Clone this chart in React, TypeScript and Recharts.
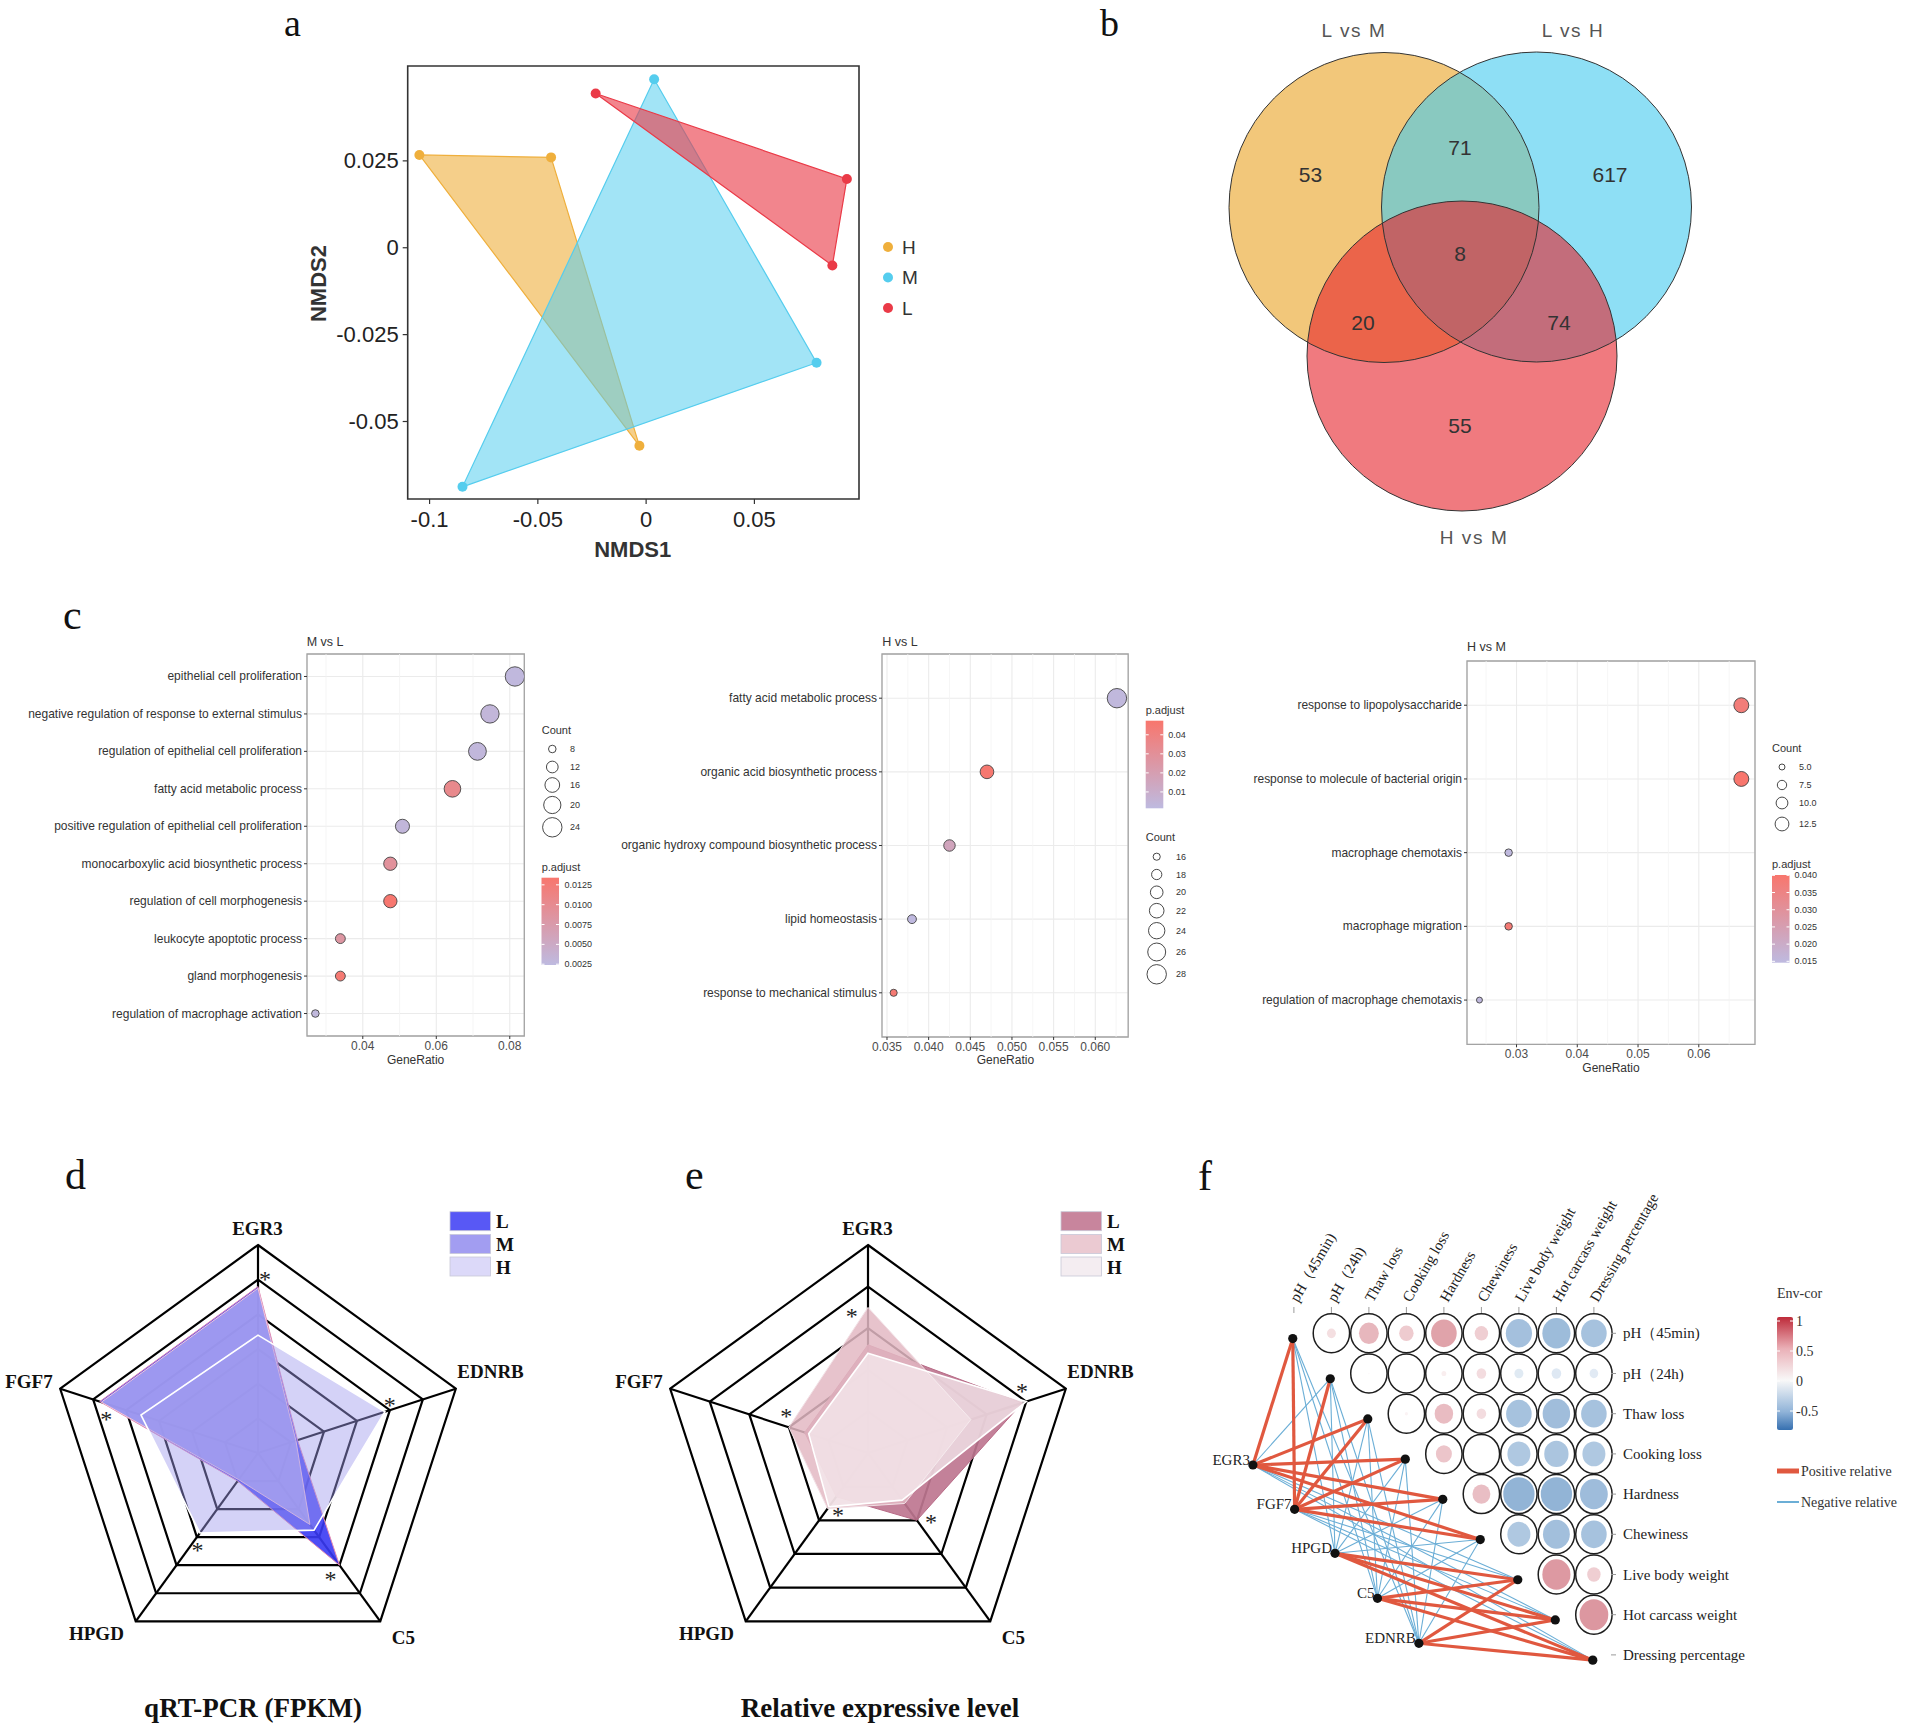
import React from 'react';
import {
  ScatterChart, Scatter, XAxis, YAxis, ZAxis, CartesianGrid, ReferenceArea, ReferenceLine, Cell,
  RadarChart, Radar, PolarGrid, PolarAngleAxis, PolarRadiusAxis, Polygon,
} from 'recharts';

const SANS = "'Liberation Sans', Arial, Helvetica, sans-serif";
const SERIF = "'Liberation Serif', 'Times New Roman', Times, serif";

/* ===================== DATA ===================== */
// (a) NMDS ordination, one triangle per group
const nmdsGroups = ['H', 'M', 'L'];
const nmdsH = [{ x: -0.1047, y: 0.0267 }, { x: -0.0439, y: 0.026 }, { x: -0.0031, y: -0.057 }];
const nmdsM = [{ x: 0.0037, y: 0.0485 }, { x: 0.0787, y: -0.0331 }, { x: -0.0848, y: -0.0688 }];
const nmdsL = [{ x: -0.0233, y: 0.0444 }, { x: 0.0927, y: 0.0198 }, { x: 0.086, y: -0.0051 }];
const nmdsXTicks = [-0.1, -0.05, 0, 0.05];
const nmdsYTicks = [-0.05, -0.025, 0, 0.025];

// (b) Venn
const vennSets = ['L vs M', 'L vs H', 'H vs M'];
const vennRegions = ['LM only', 'LM & LH', 'LH only', 'all', 'LM & HM', 'LH & HM', 'HM only'];
const vennCounts = [53, 71, 617, 8, 20, 74, 55];

// (c) GO enrichment
const goMLTerms = ['epithelial cell proliferation', 'negative regulation of response to external stimulus', 'regulation of epithelial cell proliferation', 'fatty acid metabolic process', 'positive regulation of epithelial cell proliferation', 'monocarboxylic acid biosynthetic process', 'regulation of cell morphogenesis', 'leukocyte apoptotic process', 'gland morphogenesis', 'regulation of macrophage activation'];
const goMLRatio = [0.0814, 0.0746, 0.0712, 0.0644, 0.0508, 0.0475, 0.0475, 0.0339, 0.0339, 0.0271];
const goMLCount = [24, 22, 21, 19, 15, 14, 14, 10, 10, 8];
const goMLPadj = [0.0027, 0.0031, 0.0029, 0.0104, 0.003, 0.009, 0.0132, 0.0083, 0.0128, 0.0028];
const goMLXTicks = [0.04, 0.06, 0.08];
const goMLCountBreaks = [8, 12, 16, 20, 24];
const goMLPBreaks = [0.0125, 0.01, 0.0075, 0.005, 0.0025];

const goHLTerms = ['fatty acid metabolic process', 'organic acid biosynthetic process', 'organic hydroxy compound biosynthetic process', 'lipid homeostasis', 'response to mechanical stimulus'];
const goHLRatio = [0.0626, 0.047, 0.0425, 0.038, 0.0358];
const goHLCount = [28, 21, 19, 17, 16];
const goHLPadj = [0.003, 0.046, 0.016, 0.002, 0.045];
const goHLXTicks = [0.035, 0.04, 0.045, 0.05, 0.055, 0.06];
const goHLCountBreaks = [16, 18, 20, 22, 24, 26, 28];
const goHLPBreaks = [0.04, 0.03, 0.02, 0.01];

const goHMTerms = ['response to lipopolysaccharide', 'response to molecule of bacterial origin', 'macrophage chemotaxis', 'macrophage migration', 'regulation of macrophage chemotaxis'];
const goHMRatio = [0.067, 0.067, 0.0287, 0.0287, 0.0239];
const goHMCount = [14, 14, 6, 6, 5];
const goHMPadj = [0.0375, 0.04, 0.015, 0.0385, 0.0152];
const goHMXTicks = [0.03, 0.04, 0.05, 0.06];
const goHMCountBreaks = [5, 7.5, 10, 12.5];
const goHMPBreaks = [0.04, 0.035, 0.03, 0.025, 0.02, 0.015];

// (d) qRT-PCR radar, (e) relative expression radar
const radarGenes = ['EGR3', 'EDNRB', 'C5', 'HPGD', 'FGF7'];
const radarGroups = ['L', 'M', 'H'];
const qpcrL = [4.8, 1.2, 4.0, 1.0, 4.8];
const qpcrM = [4.75, 1.15, 2.55, 0.95, 4.75];
const qpcrH = [3.4, 3.85, 2.75, 2.85, 3.55];
const qpcrRings = [1, 2, 3, 4, 5, 6];
const relL = [2.6, 3.9, 2.0, 1.3, 1.6];
const relM = [3.5, 2.6, 1.5, 1.65, 2.0];
const relH = [2.4, 4.0, 1.4, 1.6, 1.5];
const relRings = [1, 2, 3, 4, 5];

// (f) correlation network
const traits = ['pH（45min)', 'pH（24h)', 'Thaw loss', 'Cooking loss', 'Hardness', 'Chewiness', 'Live body weight', 'Hot carcass weight', 'Dressing percentage'];
const traitCor = [
  [0.28, 0.62, 0.45, 0.8, 0.42, -0.82, -0.88, -0.8],
  [0.05, 0.0, 0.15, 0.3, -0.28, -0.3, -0.27],
  [0.1, 0.58, 0.3, -0.8, -0.86, -0.8],
  [0.5, 0.0, -0.72, -0.76, -0.72],
  [0.56, -0.98, -0.98, -0.87],
  [-0.72, -0.84, -0.8],
  [0.88, 0.42],
  [0.9],
];
const fGenes = ['EGR3', 'FGF7', 'HPGD', 'C5', 'EDNRB'];
const geneTraitCor = [
  [0.52, -0.3, 0.5, 0.48, 0.5, 0.45, -0.35, -0.38, -0.33],
  [0.48, 0.45, 0.5, 0.47, 0.52, 0.46, -0.34, -0.36, -0.32],
  [-0.35, -0.3, -0.36, -0.33, -0.38, -0.34, 0.5, 0.52, 0.48],
  [-0.33, -0.31, -0.35, -0.32, -0.37, -0.33, 0.49, 0.51, 0.5],
  [-0.34, -0.3, -0.33, -0.31, -0.36, -0.35, 0.51, 0.53, 0.49],
];
const envCorTicks = [1, 0.5, 0, -0.5];

/* ===================== HELPERS ===================== */
const hexToRgb = (h: string) => { const n = parseInt(h.slice(1), 16); return [(n >> 16) & 255, (n >> 8) & 255, n & 255]; };
const mixHex = (a: string, b: string, t: number) => {
  const A = hexToRgb(a), B = hexToRgb(b);
  const c = A.map((v, i) => Math.round(v + (B[i] - v) * t));
  return `rgb(${c[0]},${c[1]},${c[2]})`;
};
const P_LOW = '#BEBAE0';
const P_HIGH = '#F8766D';
const padjColor = (p: number, d: number[]) => mixHex(P_LOW, P_HIGH, Math.max(0, Math.min(1, (p - d[0]) / (d[1] - d[0]))));
const corColor = (r: number) => mixHex('#FFFFFF', r >= 0 ? '#B2182B' : '#2166AC', 0.5 * Math.abs(r));
const EmptyShape = () => <g />;
const fmtNum = (v: number) => (v === 0 ? '0' : String(v));
const areaOf = (v: number, d: number[], r: number[]) => r[0] + ((v - d[0]) / (d[1] - d[0])) * (r[1] - r[0]);

/* ===================== PANEL A ===================== */
const A = { left: 300, top: 40, W: 600, H: 520, box: { x0: 407.7, x1: 859, y0: 66, y1: 499 }, yW: 80, xH: 40,
  xDomain: [-0.1101, 0.0983], yDomain: [-0.0723, 0.0523] };
const A_COLORS: any = { H: '#EFAF3C', M: '#55CDEE', L: '#EA3A47' };
const A_OPAC: any = { H: 0.6, M: 0.55, L: 0.62 };

function PanelA() {
  const m = { top: A.box.y0 - A.top, left: A.box.x0 - A.left - A.yW, right: A.left + A.W - A.box.x1, bottom: A.top + A.H - A.box.y1 - A.xH };
  const series: any[] = [['H', nmdsH], ['M', nmdsM], ['L', nmdsL]];
  return (
    <div style={{ position: 'absolute', left: A.left, top: A.top }}>
      <ScatterChart width={A.W} height={A.H} margin={m}>
        <XAxis type="number" dataKey="x" domain={A.xDomain} allowDataOverflow ticks={nmdsXTicks} interval={0} height={A.xH}
          axisLine={false} tickLine={{ stroke: '#333', strokeWidth: 1.2 }} tickSize={5} tickMargin={2}
          tick={(p: any) => <text x={p.x} y={p.y + 13.5} textAnchor="middle" dominantBaseline="central" fontSize={22} fontFamily={SANS} fill="#222">{fmtNum(p.payload.value)}</text>} />
        <YAxis type="number" dataKey="y" domain={A.yDomain} allowDataOverflow ticks={nmdsYTicks} interval={0} width={A.yW}
          axisLine={false} tickLine={{ stroke: '#333', strokeWidth: 1.2 }} tickSize={5} tickMargin={4}
          tick={(p: any) => <text x={p.x} y={p.y} textAnchor="end" dominantBaseline="central" fontSize={22} fontFamily={SANS} fill="#222">{fmtNum(p.payload.value)}</text>} />
        <ReferenceArea x1={A.xDomain[0]} x2={A.xDomain[1]} y1={A.yDomain[0]} y2={A.yDomain[1]} fill="none" stroke="#333" strokeWidth={1.6} ifOverflow="visible" />
        {series.map(([g, d]) => (
          <Scatter key={'poly' + g} name={g} data={d} fill={A_COLORS[g]} isAnimationActive={false} shape={EmptyShape}
            line={(lp: any) => <Polygon points={lp.points} fill={A_COLORS[g]} fillOpacity={A_OPAC[g]} stroke={A_COLORS[g]} strokeWidth={1.2} />} />
        ))}
        {series.map(([g, d]) => (
          <Scatter key={'pt' + g} data={d} fill={A_COLORS[g]} isAnimationActive={false}
            shape={(p: any) => <circle cx={p.cx} cy={p.cy} r={5} fill={A_COLORS[g]} />} />
        ))}
      </ScatterChart>
    </div>
  );
}

/* ===================== PANEL B ===================== */
const B = { left: 1190, top: 0, W: 560, H: 560, r: 155,
  centers: [[1384, 207.5], [1536.5, 207], [1462, 356]],
  setLabelPos: [[1354, 30], [1573, 30], [1474, 537]],
  countPos: [[1310.5, 174], [1460, 147], [1610, 174], [1460, 253], [1363, 322.5], [1559, 322.5], [1460, 425]] };
const B_COLORS = ['#E9A221', '#43CAEE', '#E6212A'];

function PanelB() {
  const circles = vennSets.map((s, i) => ({ x: B.centers[i][0], y: B.centers[i][1], name: s, i }));
  const counts = vennCounts.map((v, i) => ({ x: B.countPos[i][0], y: B.countPos[i][1], v, region: vennRegions[i] }));
  const labels = vennSets.map((s, i) => ({ x: B.setLabelPos[i][0], y: B.setLabelPos[i][1], s }));
  const pxPerUnit = 1;
  return (
    <div style={{ position: 'absolute', left: B.left, top: B.top }}>
      <ScatterChart width={B.W} height={B.H} margin={{ top: 0, left: 0, right: 0, bottom: 0 }}>
        <XAxis type="number" dataKey="x" domain={[B.left, B.left + B.W]} hide allowDataOverflow />
        <YAxis type="number" dataKey="y" domain={[B.top, B.top + B.H]} reversed hide allowDataOverflow />
        {circles.map((c) => (
          <Scatter key={'c' + c.i} data={[c]} isAnimationActive={false}
            shape={(p: any) => <circle cx={p.cx} cy={p.cy} r={B.r * pxPerUnit} fill={B_COLORS[c.i]} fillOpacity={0.6} />} />
        ))}
        <Scatter data={circles} isAnimationActive={false}
          shape={(p: any) => <circle cx={p.cx} cy={p.cy} r={B.r * pxPerUnit} fill="none" stroke="#333" strokeWidth={1} />} />
        <Scatter data={counts} isAnimationActive={false}
          shape={(p: any) => <text x={p.cx} y={p.cy} textAnchor="middle" dominantBaseline="central" fontFamily={SANS} fontSize={21} fill="#333">{p.payload.v}</text>} />
        <Scatter data={labels} isAnimationActive={false}
          shape={(p: any) => <text x={p.cx} y={p.cy} textAnchor="middle" dominantBaseline="central" fontFamily={SANS} fontSize={19} letterSpacing={1.6} fill="#555">{p.payload.s}</text>} />
      </ScatterChart>
    </div>
  );
}

/* ===================== PANEL C ===================== */
const C_CFG: any[] = [
  { title: 'M vs L', terms: goMLTerms, ratio: goMLRatio, count: goMLCount, padj: goMLPadj,
    box: { x0: 307, x1: 524.3, y0: 654, y1: 1036 }, yW: 292, xDomain: [0.02482, 0.08395], xTicks: goMLXTicks,
    minor: [0.03, 0.05, 0.07], dec: 2, zDomain: [8, 24], zRange: [45, 296], pDomain: [0.0024, 0.0134],
    titlePos: [306.7, 641.7], xLabelPos: [415.6, 1060],
    leg: { countTitle: [541.7, 730], cx: 552.3, cys: [749, 767, 785, 805, 827.3], breaks: goMLCountBreaks, cdec: 0, clx: 570,
      pTitle: [541.7, 867.3], bar: [541.5, 877.7, 17.5, 87.3], pBreaks: goMLPBreaks, pdec: 4, plx: 564.5 } },
  { title: 'H vs L', terms: goHLTerms, ratio: goHLRatio, count: goHLCount, padj: goHLPadj,
    box: { x0: 882.3, x1: 1128.5, y0: 654, y1: 1037 }, yW: 275, xDomain: [0.0344, 0.06395], xTicks: goHLXTicks,
    minor: [0.0375, 0.0425, 0.0475, 0.0525, 0.0575, 0.0625], dec: 3, zDomain: [16, 28], zRange: [40, 296], pDomain: [0.0014, 0.0474],
    titlePos: [882.3, 641.7], xLabelPos: [1005.4, 1060],
    leg: { countTitle: [1145.7, 837.3], cx: 1156.7, cys: [856.7, 874.5, 892.3, 910.7, 930.7, 952, 974.3], breaks: goHLCountBreaks, cdec: 0, clx: 1176,
      pTitle: [1145.7, 710], bar: [1145.7, 720.7, 17.6, 87.6], pBreaks: goHLPBreaks, pdec: 2, plx: 1168.3 } },
  { title: 'H vs M', terms: goHMTerms, ratio: goHMRatio, count: goHMCount, padj: goHMPadj,
    box: { x0: 1467, x1: 1755, y0: 660.7, y1: 1044 }, yW: 230, xDomain: [0.02185, 0.06925], xTicks: goHMXTicks,
    minor: [0.025, 0.035, 0.045, 0.055, 0.065], dec: 2, zDomain: [5, 14], zRange: [28, 175], pDomain: [0.0146, 0.0401],
    titlePos: [1467, 647.3], xLabelPos: [1611, 1068],
    leg: { countTitle: [1772, 747.7], cx: 1782, cys: [767, 785, 803, 824], breaks: goHMCountBreaks, cdec: 1, clx: 1799,
      pTitle: [1772, 864], bar: [1772, 875, 17.5, 87.7], pBreaks: goHMPBreaks, pdec: 3, plx: 1794.5 } },
];

function GoPlot({ cfg }: any) {
  const n = cfg.terms.length;
  const left = cfg.box.x0 - cfg.yW - 10;
  const top = cfg.box.y0 - 12;
  const W = cfg.box.x1 - left + 14;
  const H = cfg.box.y1 - top + 30 + 4;
  const data = cfg.terms.map((t: string, i: number) => ({ y: i, x: cfg.ratio[i], z: cfg.count[i], p: cfg.padj[i] }));
  const idx = cfg.terms.map((_: any, i: number) => i);
  return (
    <div style={{ position: 'absolute', left, top }}>
      <ScatterChart width={W} height={H} margin={{ top: 12, left: 10, right: 14, bottom: 4 }}>
        <CartesianGrid stroke="#EBEBEB" strokeWidth={1.1} />
        {cfg.minor.map((v: number) => <ReferenceLine key={v} x={v} stroke="#F4F4F4" strokeWidth={0.8} />)}
        <XAxis type="number" dataKey="x" domain={cfg.xDomain} allowDataOverflow ticks={cfg.xTicks} interval={0} height={30}
          axisLine={false} tickLine={{ stroke: '#333' }} tickSize={3} tickMargin={3}
          tick={(p: any) => <text x={p.x} y={p.y + 3.7} textAnchor="middle" dominantBaseline="central" fontSize={12} fontFamily={SANS} fill="#4D4D4D">{p.payload.value.toFixed(cfg.dec)}</text>} />
        <YAxis type="number" dataKey="y" domain={[-0.6, n - 0.4]} reversed allowDataOverflow ticks={idx} interval={0} width={cfg.yW}
          axisLine={false} tickLine={{ stroke: '#333' }} tickSize={3} tickMargin={2}
          tick={(p: any) => <text x={p.x} y={p.y} textAnchor="end" dominantBaseline="central" fontSize={12} fontFamily={SANS} fill="#333">{cfg.terms[p.payload.value]}</text>} />
        <ZAxis type="number" dataKey="z" domain={cfg.zDomain} range={cfg.zRange} />
        <ReferenceArea x1={cfg.xDomain[0]} x2={cfg.xDomain[1]} y1={-0.6} y2={n - 0.4} fill="none" stroke="#A3A3A3" strokeWidth={1.3} ifOverflow="visible" />
        <Scatter data={data} stroke="#444" strokeWidth={0.9} isAnimationActive={false}>
          {data.map((d: any, i: number) => <Cell key={i} fill={padjColor(d.p, cfg.pDomain)} />)}
        </Scatter>
      </ScatterChart>
    </div>
  );
}

function GoLegend({ cfg }: any) {
  const L = cfg.leg;
  const [bx, by, bw, bh] = L.bar;
  const py = (v: number) => by + ((cfg.pDomain[1] - v) / (cfg.pDomain[1] - cfg.pDomain[0])) * bh;
  return (
    <g fontFamily={SANS}>
      <text x={cfg.titlePos[0]} y={cfg.titlePos[1]} dominantBaseline="central" fontSize={12.5} fill="#333">{cfg.title}</text>
      <text x={cfg.xLabelPos[0]} y={cfg.xLabelPos[1]} textAnchor="middle" dominantBaseline="central" fontSize={12} fill="#333">GeneRatio</text>
      <text x={L.countTitle[0]} y={L.countTitle[1]} dominantBaseline="central" fontSize={11} fill="#333">Count</text>
      {L.breaks.map((v: number, i: number) => (
        <g key={i}>
          <circle cx={L.cx} cy={L.cys[i]} r={Math.sqrt(areaOf(v, cfg.zDomain, cfg.zRange) / Math.PI)} fill="none" stroke="#333" strokeWidth={0.9} />
          <text x={L.clx} y={L.cys[i]} dominantBaseline="central" fontSize={9} fill="#333">{v.toFixed(L.cdec)}</text>
        </g>
      ))}
      <text x={L.pTitle[0]} y={L.pTitle[1]} dominantBaseline="central" fontSize={11} fill="#333">p.adjust</text>
      <rect x={bx} y={by} width={bw} height={bh} fill="url(#gP)" />
      {L.pBreaks.map((v: number, i: number) => (
        <g key={i}>
          <line x1={bx} x2={bx + 3} y1={py(v)} y2={py(v)} stroke="#fff" />
          <line x1={bx + bw - 3} x2={bx + bw} y1={py(v)} y2={py(v)} stroke="#fff" />
          <text x={L.plx} y={py(v)} dominantBaseline="central" fontSize={9} fill="#333">{v.toFixed(L.pdec)}</text>
        </g>
      ))}
    </g>
  );
}

/* ===================== PANELS D / E ===================== */
const D_CFG: any = { left: 0, top: 1190, W: 560, H: 540, cx: 258, cy: 263, R: 208, max: 6, rings: qpcrRings,
  series: [qpcrL, qpcrM, qpcrH], fills: ['#3A3AF4', '#B1ABEF', '#A09BEE'], opac: [0.9, 0.8, 0.45],
  strokes: ['#E58BB0', '#F4C6D8', '#FFFFFF'], sw: [1, 1, 1.6],
  starR: [5.13, 4.08, 4.07, 3.2, 4.5], starOff: [[7, 0], [-2.8, -8.5], [-10.5, 7.6], [4.8, 3.4], [-3.4, 10.3]],
  swatch: ['#5858F5', '#A29DF1', '#DCD9F9'], legX: 450, title: 'qRT-PCR (FPKM)', titleX: 253 };
const E_CFG: any = { left: 600, top: 1190, W: 560, H: 540, cx: 268, cy: 263, R: 208, max: 5, rings: relRings,
  series: [relL, relM, relH], fills: ['#BE7690', '#E3B9C3', '#F6EEF1'], opac: [0.92, 0.85, 0.72],
  strokes: ['#B86A86', '#F2E1E6', '#FFFFFF'], sw: [1, 1, 1.6],
  starR: [3.4, 4.01, 2.16, 1.55, 2.18], starOff: [[-16.2, 0], [-4.7, -14.4], [10.1, -7.3], [7.9, 5.8], [4.4, -13.4]],
  swatch: ['#C8859D', '#EBCAD2', '#F4EDF1'], legX: 1061, title: 'Relative expressive level', titleX: 880 };
const LABEL_OFF: any = { EGR3: [-0.5, -8.7], EDNRB: [27.1, -14.5], C5: [18.5, 9.5], HPGD: [-34.6, 5.5], FGF7: [-23.6, -5.2] };

function RadarPanel({ cfg }: any) {
  const data = radarGenes.map((g, i) => ({ gene: g, L: cfg.series[0][i], M: cfg.series[1][i], H: cfg.series[2][i], star: cfg.starR[i] }));
  return (
    <div style={{ position: 'absolute', left: cfg.left, top: cfg.top }}>
      <RadarChart width={cfg.W} height={cfg.H} cx={cfg.cx} cy={cfg.cy} outerRadius={cfg.R} data={data} margin={{ top: 0, left: 0, right: 0, bottom: 0 }}>
        <PolarGrid gridType="polygon" stroke="#000" strokeWidth={2.2} polarRadius={cfg.rings.map((k: number) => (k / cfg.max) * cfg.R)} />
        <PolarAngleAxis dataKey="gene" tickLine={false} axisLine={false}
          tick={(p: any) => {
            const o = LABEL_OFF[p.payload.value] || [0, 0];
            return <text x={p.x + o[0]} y={p.y + o[1]} textAnchor="middle" dominantBaseline="central" fontFamily={SERIF} fontWeight="bold" fontSize={19} fill="#111">{p.payload.value}</text>;
          }} />
        <PolarRadiusAxis domain={[0, cfg.max]} tickCount={cfg.max + 1} tick={false} axisLine={false} />
        {radarGroups.map((g, i) => (
          <Radar key={g} dataKey={g} fill={cfg.fills[i]} fillOpacity={cfg.opac[i]} stroke={cfg.strokes[i]} strokeWidth={cfg.sw[i]} dot={false} isAnimationActive={false} />
        ))}
        <Radar dataKey="star" fill="none" stroke="none" isAnimationActive={false}
          dot={(p: any) => {
            const o = cfg.starOff[p.index] || [0, 0];
            return <text key={'s' + p.index} x={p.cx + o[0]} y={p.cy + o[1] + 4} textAnchor="middle" dominantBaseline="central" fontFamily={SERIF} fontSize={24} fill="#222">*</text>;
          }} />
      </RadarChart>
    </div>
  );
}

function RadarLegend({ cfg }: any) {
  const ys = [1211.7, 1234.5, 1257];
  return (
    <g>
      {radarGroups.map((g, i) => (
        <g key={g}>
          <rect x={cfg.legX} y={ys[i]} width={40.5} height={19} fill={cfg.swatch[i]} stroke="#c8c8d8" strokeWidth={0.8} />
          <text x={cfg.legX + 46} y={ys[i] + 10} dominantBaseline="central" fontFamily={SERIF} fontWeight="bold" fontSize={19} fill="#111">{g}</text>
        </g>
      ))}
      <text x={cfg.titleX} y={1717} textAnchor="middle" fontFamily={SERIF} fontWeight="bold" fontSize={27} fill="#111">{cfg.title}</text>
    </g>
  );
}

/* ===================== PANEL F ===================== */
const F = { left: 1200, top: 1140, W: 708, H: 570, x0: 1293.9, dx: 37.5, y0: 1333.3, dy: 40.2,
  genePos: [[-1.093, 3.276], [0.019, 4.378], [1.096, 5.473], [2.229, 6.592], [3.333, 7.711]],
  nodeOff: [-0.03, 0.13], rowLabelX: 8.776, headerY: -0.754 };
const F_RED = '#E0583F';
const F_BLUE = '#6BAED6';

function PanelF() {
  const xDomain = [(F.left - F.x0) / F.dx, (F.left + F.W - F.x0) / F.dx];
  const yDomain = [(F.top - F.y0) / F.dy, (F.top + F.H - F.y0) / F.dy];
  const cells: any[] = [];
  traitCor.forEach((row, i) => row.forEach((r, k) => cells.push({ x: i + 1 + k, y: i, r })));
  const edges: any[] = [];
  fGenes.forEach((g, gi) => traits.forEach((t, ti) => edges.push({ gi, ti, r: geneTraitCor[gi][ti] })));
  const ordered = [...edges.filter((e) => e.r < 0), ...edges.filter((e) => e.r >= 0)];
  const traitNodes = traits.map((t, k) => ({ x: k + F.nodeOff[0], y: k + F.nodeOff[1] }));
  const geneNodes = fGenes.map((g, i) => ({ x: F.genePos[i][0], y: F.genePos[i][1], name: g }));
  const rowLabels = traits.map((t, k) => ({ x: F.rowLabelX, y: k, name: t }));
  const headers = traits.map((t, k) => ({ x: k, y: F.headerY, name: t }));
  const rx = 0.485 * F.dx, ry = 0.485 * F.dy;
  return (
    <div style={{ position: 'absolute', left: F.left, top: F.top }}>
      <ScatterChart width={F.W} height={F.H} margin={{ top: 0, left: 0, right: 0, bottom: 0 }}>
        <XAxis type="number" dataKey="x" domain={xDomain} hide allowDataOverflow />
        <YAxis type="number" dataKey="y" domain={yDomain} reversed hide allowDataOverflow />
        {ordered.map((e, k) => (
          <Scatter key={'e' + k} data={[{ x: F.genePos[e.gi][0], y: F.genePos[e.gi][1] }, traitNodes[e.ti]]} fill="none" isAnimationActive={false}
            shape={EmptyShape} line={{ stroke: e.r >= 0 ? F_RED : F_BLUE, strokeWidth: e.r >= 0 ? 3.2 : 1.1 }} />
        ))}
        <Scatter data={traitNodes} isAnimationActive={false} shape={(p: any) => <circle cx={p.cx} cy={p.cy} r={4.6} fill="#111" />} />
        <Scatter data={geneNodes} isAnimationActive={false}
          shape={(p: any) => (
            <g>
              <circle cx={p.cx} cy={p.cy} r={4.6} fill="#111" />
              <text x={p.cx - 3} y={p.cy} textAnchor="end" fontFamily={SERIF} fontSize={15} fill="#222">{p.payload.name}</text>
            </g>
          )} />
        <Scatter data={cells} isAnimationActive={false}
          shape={(p: any) => {
            const a = Math.abs(p.payload.r);
            return (
              <g>
                <ellipse cx={p.cx} cy={p.cy} rx={rx} ry={ry} fill="#fff" stroke="#1E1E1E" strokeWidth={1.5} />
                {a > 0.01 && <ellipse cx={p.cx} cy={p.cy} rx={(rx - 2.2) * a} ry={(ry - 2.2) * a} fill={corColor(p.payload.r)} />}
              </g>
            );
          }} />
        <Scatter data={rowLabels} isAnimationActive={false}
          shape={(p: any) => (
            <g>
              <line x1={p.cx - 12} x2={p.cx - 7} y1={p.cy} y2={p.cy} stroke="#999" />
              <text x={p.cx} y={p.cy} dominantBaseline="central" fontFamily={SERIF} fontSize={15} fill="#222">{p.payload.name}</text>
            </g>
          )} />
        <Scatter data={headers} isAnimationActive={false}
          shape={(p: any) => (
            <g>
              <line x1={p.cx} x2={p.cx} y1={p.cy + 4} y2={p.cy + 10} stroke="#999" />
              <text x={p.cx + 4} y={p.cy} transform={`rotate(-60 ${p.cx + 4} ${p.cy})`} fontFamily={SERIF} fontSize={15} fill="#222">{p.payload.name}</text>
            </g>
          )} />
      </ScatterChart>
    </div>
  );
}

/* ===================== OVERLAY (letters, legends, titles) ===================== */
function Overlay() {
  const letters: any[] = [['a', 284, 36, 38], ['b', 1100, 36, 38], ['c', 63, 629, 42], ['d', 65, 1189, 42], ['e', 685, 1189, 42], ['f', 1198, 1190, 42]];
  const envY = (v: number) => 1381 - v * 60;
  return (
    <svg width={1908} height={1730} style={{ position: 'absolute', left: 0, top: 0, pointerEvents: 'none' }}>
      <defs>
        <linearGradient id="gP" x1="0" y1="0" x2="0" y2="1">
          <stop offset="0" stopColor={P_HIGH} />
          <stop offset="1" stopColor={P_LOW} />
        </linearGradient>
        <linearGradient id="gEnv" x1="0" y1="0" x2="0" y2="1">
          <stop offset="0" stopColor="#BE2B3A" />
          <stop offset="0.28" stopColor="#EAB0B7" />
          <stop offset="0.56" stopColor="#F8F8F8" />
          <stop offset="0.84" stopColor="#90B3D8" />
          <stop offset="1" stopColor="#3670B0" />
        </linearGradient>
      </defs>
      {letters.map(([t, x, y, fs]) => (
        <text key={t} x={x} y={y} fontFamily={SERIF} fontSize={fs} fill="#111">{t}</text>
      ))}
      {/* panel a titles + legend */}
      <text x={632.7} y={549} textAnchor="middle" dominantBaseline="central" fontFamily={SANS} fontWeight="bold" fontSize={22} fill="#333">NMDS1</text>
      <text x={318.8} y={283.5} textAnchor="middle" dominantBaseline="central" fontFamily={SANS} fontWeight="bold" fontSize={22} fill="#333" transform="rotate(-90 318.8 283.5)">NMDS2</text>
      {nmdsGroups.map((g, i) => (
        <g key={g}>
          <circle cx={888} cy={247 + i * 30.5} r={5} fill={A_COLORS[g]} />
          <text x={902} y={247 + i * 30.5} dominantBaseline="central" fontFamily={SANS} fontSize={19} fill="#333">{g}</text>
        </g>
      ))}
      {/* panel c legends */}
      {C_CFG.map((c, i) => <GoLegend key={i} cfg={c} />)}
      {/* panels d, e legends + titles */}
      <RadarLegend cfg={D_CFG} />
      <RadarLegend cfg={E_CFG} />
      {/* panel f legend */}
      <g fontFamily={SERIF} fill="#333">
        <text x={1777} y={1293} dominantBaseline="central" fontSize={14}>Env-cor</text>
        <rect x={1777} y={1317} width={16} height={113} rx={2} fill="url(#gEnv)" />
        {envCorTicks.map((v) => (
          <g key={v}>
            <line x1={1777} x2={1780} y1={envY(v)} y2={envY(v)} stroke="#fff" />
            <line x1={1790} x2={1793} y1={envY(v)} y2={envY(v)} stroke="#fff" />
            <text x={1796} y={envY(v)} dominantBaseline="central" fontSize={14}>{fmtNum(v)}</text>
          </g>
        ))}
        <line x1={1777} x2={1799} y1={1471} y2={1471} stroke={F_RED} strokeWidth={5} />
        <text x={1801} y={1471} dominantBaseline="central" fontSize={14}>Positive relative</text>
        <line x1={1777} x2={1799} y1={1502} y2={1502} stroke={F_BLUE} strokeWidth={2} />
        <text x={1801} y={1502} dominantBaseline="central" fontSize={14}>Negative relative</text>
      </g>
    </svg>
  );
}

export default function App() {
  return (
    <div style={{ position: 'absolute', left: 0, top: 0, width: 1908, height: 1730, background: '#fff', overflow: 'hidden' }}>
      <PanelA />
      <PanelB />
      {C_CFG.map((c, i) => <GoPlot key={i} cfg={c} />)}
      <RadarPanel cfg={D_CFG} />
      <RadarPanel cfg={E_CFG} />
      <PanelF />
      <Overlay />
    </div>
  );
}
